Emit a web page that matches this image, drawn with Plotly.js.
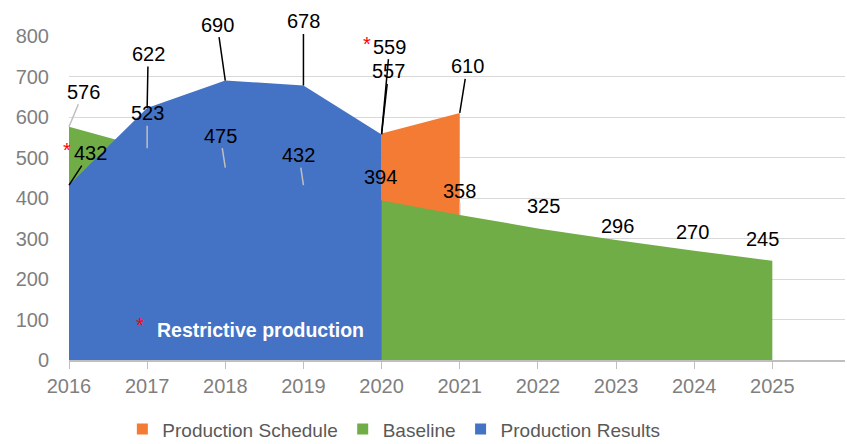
<!DOCTYPE html>
<html>
<head>
<meta charset="utf-8">
<script src="https://cdn.plot.ly/plotly-3.0.1.min.js"></script>
<style>html,body{margin:0;padding:0;background:#fff;}#chart{width:847px;height:444px;}</style>
</head>
<body>
<div id="chart"></div>
<script>
// ---- data ----
const years = [2016, 2017, 2018, 2019, 2020, 2021, 2022, 2023, 2024, 2025];
const baseline = [576, 523, 475, 432, 394, 358, 325, 296, 270, 245];
const resultYears = [2016, 2017, 2018, 2019, 2020];
const results = [432, 622, 690, 678, 557];
const scheduleYears = [2020, 2021];
const schedule = [559, 610];
const tickYears = [2016, 2017, 2018, 2019, 2020, 2021, 2022, 2023, 2024, 2025];
const yTicks = [0, 100, 200, 300, 400, 500, 600, 700, 800];

// ---- label placement (pixel offsets, leader line on/off) ----
const baselineLabelPos = [[14.5,-35,1],[0,-35,1],[-5,-32,1],[-4.5,-30,1],[-1,-23,0],[0,-24.5,1],[6,-22,0],[1,-14.5,0],[-1.5,-19,0],[-10,-22,0]];
const resultLabelPos = [[21,-32,1],[1,-54,1],[-8,-56,1],[0,-64,1],[7,-63,1]];
const scheduleLabelPos = [[8,-87,1],[7.5,-46.5,1]];

const C_ORANGE = '#F47B33', C_GREEN = '#70AD47', C_BLUE = '#4472C4';
const FONT = '"Liberation Sans", Arial, sans-serif';

function area(x, y, color) {
  return {type:'scatter', mode:'none', x:x, y:y, fill:'tozeroy', fillcolor:color,
          line:{width:0}, showlegend:false, hoverinfo:'skip'};
}
function legendItem(name, color) {
  return {type:'scatter', mode:'markers', x:[null], y:[null], name:name,
          marker:{symbol:'square', size:11, color:color}};
}

const traces = [
  area(scheduleYears, schedule, C_ORANGE),
  area(years, baseline, C_GREEN),
  area(resultYears, results, C_BLUE),
  legendItem('Production Schedule', C_ORANGE),
  legendItem('Baseline', C_GREEN),
  legendItem('Production Results', C_BLUE)
];

const annotations = [];
function addLabels(xs, ys, pos, lineColor) {
  xs.forEach((x, i) => {
    const p = pos[i];
    const a = {x:x, y:ys[i], xref:'x', yref:'y', text:String(ys[i]),
               font:{family:FONT, size:20, color:'#000'}, bgcolor:'rgba(0,0,0,0)'};
    if (p[2]) {
      Object.assign(a, {showarrow:true, arrowhead:0, arrowwidth:1.5, arrowcolor:lineColor,
                        ax:p[0], ay:p[1], axref:'pixel', ayref:'pixel', standoff:0});
    } else {
      Object.assign(a, {showarrow:false, xshift:p[0], yshift:-p[1]});
    }
    annotations.push(a);
  });
}
addLabels(years, baseline, baselineLabelPos, '#BFBFBF');
addLabels(resultYears, results, resultLabelPos, '#000000');
addLabels(scheduleYears, schedule, scheduleLabelPos, '#000000');

function star(x, y, xs, ys, xref, yref) {
  annotations.push({x:x, y:y, xref:xref, yref:yref, text:'*', showarrow:false,
    xanchor:'center', yanchor:'middle',
    xshift:xs, yshift:ys, font:{family:FONT, size:20, color:'#FF0000'}});
}
star(resultYears[0], results[0], -2, 35, 'x', 'y');
star(scheduleYears[0], schedule[0], -15, 90, 'x', 'y');

// "Restrictive production" note (paper coords: plot spans x 69..845, y 36..360)
annotations.push({x:(260-69)/776, y:(360-330)/324, xref:'paper', yref:'paper', showarrow:false,
  xanchor:'center', yanchor:'middle',
  text:'<b>Restrictive production</b>', font:{family:FONT, size:19.5, color:'#FFFFFF'}});
star((140-69)/776, (360-330)/324, 0, 5, 'paper', 'paper');

const layout = {
  width:847, height:444,
  margin:{l:69, r:2, t:36, b:84},
  paper_bgcolor:'#fff', plot_bgcolor:'#fff',
  showlegend:true,
  legend:{orientation:'h', x:0.465, xanchor:'center', xref:'container', y:0.076, yanchor:'top', yref:'container',
          font:{family:FONT, size:19, color:'#595959'}, traceorder:'normal'},
  xaxis:{range:[2016, 2025.93], tickvals:tickYears, ticktext:tickYears.map(String),
         showgrid:false, zeroline:false, showline:true, linecolor:'#BFBFBF', linewidth:1.5,
         ticks:'outside', ticklen:7, tickcolor:'#BFBFBF', tickwidth:1,
         tickfont:{family:FONT, size:20, color:'#7F7F7F'}, fixedrange:true},
  yaxis:{range:[0, 800], tickvals:yTicks, showgrid:true, gridcolor:'#D9D9D9', gridwidth:1,
         zeroline:false, showline:false, ticks:'', ticklabelstandoff:19,
         tickfont:{family:FONT, size:20, color:'#7F7F7F'}, fixedrange:true},
  annotations:annotations
};

Plotly.newPlot('chart', traces, layout, {displayModeBar:false, staticPlot:true});
</script>
</body>
</html>
